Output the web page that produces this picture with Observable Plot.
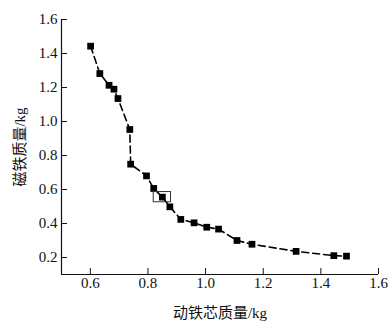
<!DOCTYPE html>
<html>
<head>
<meta charset="utf-8">
<script src="https://cdn.jsdelivr.net/npm/d3@7"></script>
<script src="https://cdn.jsdelivr.net/npm/@observablehq/plot@0.6"></script>
<style>
  html, body { margin: 0; padding: 0; background: #fff; }
  #chart { width: 392px; height: 326px; }
  #chart svg, #chart svg text { font-family: "Liberation Serif", "Noto Sans CJK SC", serif !important; }
</style>
</head>
<body>
<div id="chart"></div>
<script>
// Data
const coreMass = [0.601, 0.633, 0.665, 0.682, 0.696, 0.737, 0.740, 0.795, 0.820, 0.850,
                  0.876, 0.914, 0.960, 1.004, 1.045, 1.109, 1.161, 1.314, 1.445, 1.489];
const magnetMass = [1.443, 1.282, 1.213, 1.190, 1.135, 0.953, 0.749, 0.680, 0.606, 0.555,
                    0.498, 0.424, 0.404, 0.378, 0.367, 0.300, 0.278, 0.236, 0.211, 0.208];
const highlightIndex = 9;
const boxHalf = 0.03;
const xDomain = [0.5, 1.6];
const yDomain = [0.1, 1.6];
const xTicks = [0.6, 0.8, 1.0, 1.2, 1.4, 1.6];
const yTicks = [0.2, 0.4, 0.6, 0.8, 1.0, 1.2, 1.4, 1.6];
const xLabel = "动铁芯质量/kg";
const yLabel = "磁铁质量/kg";

const data = coreMass.map((x, i) => ({x, y: magnetMass[i]}));
const highlight = [data[highlightIndex]];

const chart = Plot.plot({
  width: 392,
  height: 326,
  marginLeft: 61,
  marginRight: 14,
  marginTop: 19,
  marginBottom: 52,
  style: {fontFamily: "'Liberation Serif', 'Noto Sans CJK SC', serif", fontSize: "15px", color: "#111", background: "#fff"},
  x: {domain: xDomain},
  y: {domain: yDomain},
  marks: [
    Plot.ruleX([xDomain[0]], {stroke: "#111", strokeWidth: 1.2}),
    Plot.ruleY([yDomain[0]], {stroke: "#111", strokeWidth: 1.2}),
    Plot.axisX({ticks: xTicks, tickFormat: d3.format(".1f"), tickSize: -6, tickPadding: 9, fontSize: 15,
                label: xLabel, labelAnchor: "center", labelArrow: "none", labelOffset: 43}),
    Plot.axisY({ticks: yTicks, tickFormat: d3.format(".1f"), tickSize: -6, tickPadding: 10, fontSize: 15,
                label: yLabel, labelAnchor: "center", labelArrow: "none", labelOffset: 47}),
    Plot.line(data, {x: "x", y: "y", stroke: "#000", strokeWidth: 1.6, strokeDasharray: "7,4"}),
    Plot.dot(data, {x: "x", y: "y", symbol: "square", r: 3.8, fill: "#000", stroke: "none"}),
    Plot.rect(highlight, {x1: d => d.x - boxHalf, x2: d => d.x + boxHalf,
                          y1: d => d.y - boxHalf, y2: d => d.y + boxHalf,
                          fill: "none", stroke: "#333", strokeWidth: 1})
  ]
});
document.getElementById("chart").appendChild(chart);
</script>
</body>
</html>
